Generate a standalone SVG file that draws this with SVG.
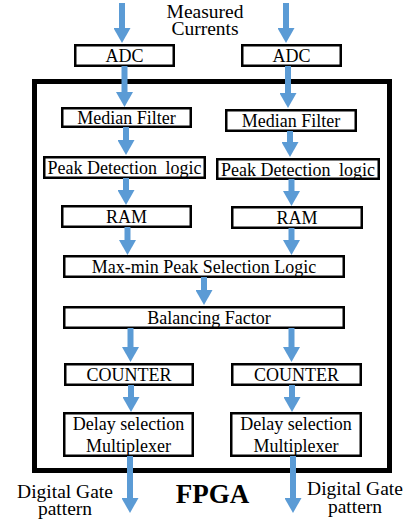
<svg xmlns="http://www.w3.org/2000/svg" width="406" height="524" viewBox="0 0 406 524">
  <defs>
    <marker id="head" markerUnits="userSpaceOnUse" viewBox="0 0 15 17" markerWidth="15" markerHeight="17" refX="0" refY="8.5" orient="auto">
      <path d="M0,0 L15,8.5 L0,17 Z" fill="#5b9bd5"/>
    </marker>
  </defs>
  <style>
    .box { fill: #fff; stroke: #000; stroke-width: 2.5; }
    .frame { fill: none; stroke: #000; stroke-width: 5; }
    text { fill: #000; text-anchor: middle; font-size: 18px; }
    .big { font-size: 19.5px; }
    .title { font-size: 27px; font-weight: bold; }
    .arrow { stroke: #5b9bd5; stroke-width: 6; fill: none; marker-end: url(#head); }
  </style>

  <g font-family="'Liberation Serif', 'Times New Roman', serif">
  <!-- FPGA boundary -->
  <g id="fpga">
    <rect class="frame" x="34.5" y="81.5" width="355" height="389"/>
    <text class="title" x="212.5" y="503">FPGA</text>
  </g>

  <g id="inputs">
    <text class="big" x="205" y="18">Measured<tspan x="205" dy="17">Currents</tspan></text>
  </g>

  <g id="adc-left"><rect class="box" x="75.25" y="45.25" width="98.5" height="20.5"/><text x="124.5" y="62">ADC</text></g>
  <g id="adc-right"><rect class="box" x="242.25" y="45.25" width="98.5" height="20.5"/><text x="291.5" y="62">ADC</text></g>

  <g id="median-left"><rect class="box" x="62.25" y="108.25" width="128.5" height="18.5"/><text x="126.5" y="124">Median Filter</text></g>
  <g id="median-right"><rect class="box" x="226.25" y="110.25" width="129.5" height="20.5"/><text x="291" y="127">Median Filter</text></g>

  <g id="peak-left"><rect class="box" x="44.25" y="157.25" width="160.5" height="20.5"/><text x="124.5" y="174">Peak Detection <tspan dx="4">logic</tspan></text></g>
  <g id="peak-right"><rect class="box" x="217.25" y="159.25" width="161.5" height="19.5"/><text x="298" y="175.5">Peak Detection <tspan dx="4">logic</tspan></text></g>

  <g id="ram-left"><rect class="box" x="62.25" y="206.25" width="128.5" height="20.5"/><text x="126.5" y="223">RAM</text></g>
  <g id="ram-right"><rect class="box" x="232.25" y="207.25" width="129.5" height="20.5"/><text x="297" y="224">RAM</text></g>

  <g id="maxmin"><rect class="box" x="64.25" y="256.25" width="279.5" height="20.5"/><text x="204" y="273">Max-min Peak Selection Logic</text></g>

  <g id="balancing"><rect class="box" x="64.25" y="307.25" width="279.5" height="20.5"/><text x="209" y="324">Balancing Factor</text></g>

  <g id="counter-left"><rect class="box" x="65.25" y="364.25" width="127.5" height="20.5"/><text x="129" y="381">COUNTER</text></g>
  <g id="counter-right"><rect class="box" x="232.25" y="364.25" width="128.5" height="20.5"/><text x="296.5" y="381">COUNTER</text></g>

  <g id="delay-left"><rect class="box" x="64.25" y="413.25" width="128.5" height="42.5"/><text x="128.5" y="430">Delay selection<tspan x="128.5" dy="22">Multiplexer</tspan></text></g>
  <g id="delay-right"><rect class="box" x="231.25" y="413.25" width="129.5" height="42.5"/><text x="296" y="430">Delay selection<tspan x="296" dy="22">Multiplexer</tspan></text></g>

  <g id="outputs">
    <text class="big" x="65" y="498">Digital Gate<tspan x="65" dy="17">pattern</tspan></text>
    <text class="big" x="355" y="495">Digital Gate<tspan x="355" dy="18">pattern</tspan></text>
  </g>
  </g>

  <!-- signal flow -->
  <g id="connectors">
    <line class="arrow" x1="122" y1="3" x2="122" y2="28"/>
    <line class="arrow" x1="286" y1="3" x2="286" y2="28"/>
    <line class="arrow" x1="124.5" y1="66" x2="124.5" y2="92"/>
    <line class="arrow" x1="288" y1="66" x2="288" y2="93"/>
    <line class="arrow" x1="126" y1="127" x2="126" y2="140"/>
    <line class="arrow" x1="290" y1="131" x2="290" y2="142"/>
    <line class="arrow" x1="126" y1="178" x2="126" y2="190"/>
    <line class="arrow" x1="291.5" y1="179" x2="291.5" y2="191"/>
    <line class="arrow" x1="127.5" y1="227" x2="127.5" y2="240"/>
    <line class="arrow" x1="291.5" y1="228" x2="291.5" y2="240"/>
    <line class="arrow" x1="204" y1="277" x2="204" y2="290"/>
    <line class="arrow" x1="130.5" y1="328" x2="130.5" y2="347"/>
    <line class="arrow" x1="291.5" y1="328" x2="291.5" y2="347"/>
    <line class="arrow" x1="131" y1="385" x2="131" y2="397"/>
    <line class="arrow" x1="292" y1="385" x2="292" y2="397"/>
    <line class="arrow" x1="130" y1="456" x2="130" y2="498"/>
    <line class="arrow" x1="293" y1="456" x2="293" y2="498"/>
  </g>
</svg>
